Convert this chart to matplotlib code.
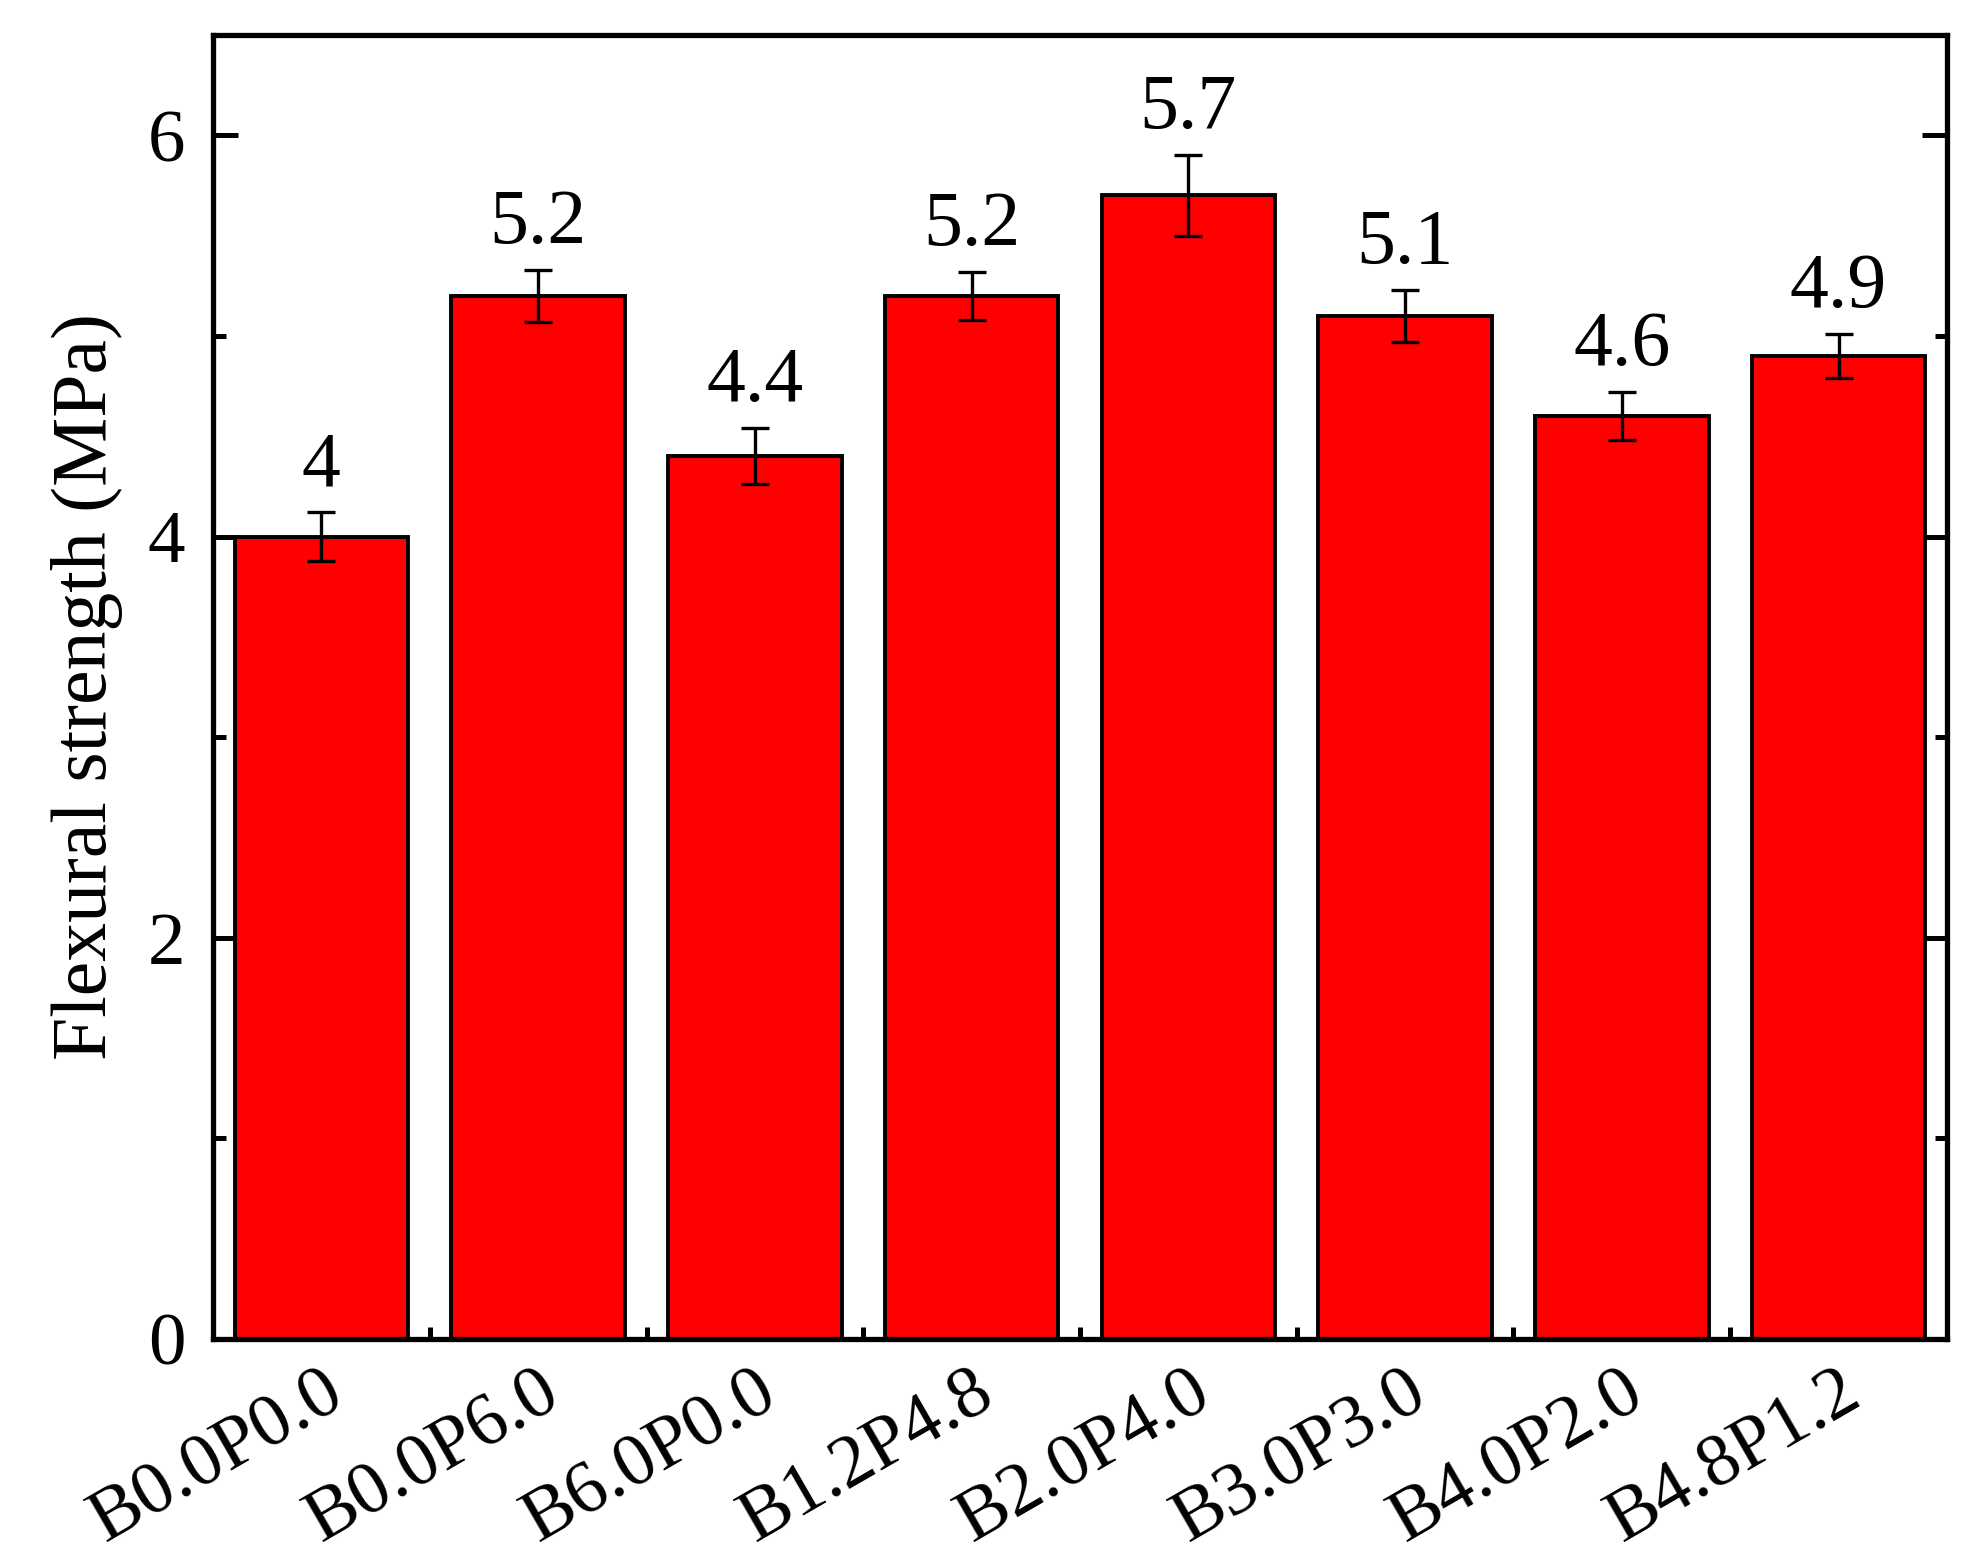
import matplotlib
matplotlib.use("Agg")
import matplotlib.pyplot as plt
from matplotlib.ticker import MultipleLocator, FixedLocator

groups = ["B0.0P0.0", "B0.0P6.0", "B6.0P0.0", "B1.2P4.8",
          "B2.0P4.0", "B3.0P3.0", "B4.0P2.0", "B4.8P1.2"]
strength = [4.0, 5.2, 4.4, 5.2, 5.7, 5.1, 4.6, 4.9]
errors = [0.12, 0.13, 0.14, 0.12, 0.20, 0.13, 0.12, 0.11]
labels = ["4", "5.2", "4.4", "5.2", "5.7", "5.1", "4.6", "4.9"]

plt.rcParams['font.family'] = ['Liberation Serif', 'DejaVu Serif']
plt.rcParams['mathtext.fontset'] = 'stix'

fig = plt.figure(figsize=(19.86, 15.65), dpi=100)
ax = fig.add_axes([213 / 1986, 1 - 1339 / 1565, (1947 - 213) / 1986, (1339 - 35) / 1565])

x = list(range(len(groups)))
ax.bar(x, strength, width=0.8, color="#ff0000", edgecolor="black", linewidth=2.8, zorder=2)
ax.errorbar(x, strength, yerr=errors, fmt="none", ecolor="black",
            elinewidth=2.4, capsize=10, capthick=2.4, zorder=3)

for xi, v, e, t in zip(x, strength, errors, labels):
    ax.text(xi, v + e + 0.05, t, ha="center", va="bottom", fontsize=56)

ax.set_xlim(-0.5, 7.5)
ax.set_ylim(0, 6.5)
ax.set_xticks(x)
ax.set_xticklabels(groups, rotation=30, ha="right", rotation_mode="anchor")
ax.xaxis.set_minor_locator(FixedLocator([i + 0.5 for i in range(-1, 8)]))
ax.yaxis.set_major_locator(MultipleLocator(2))
ax.yaxis.set_minor_locator(MultipleLocator(1))

ax.tick_params(axis="both", which="major", direction="in", length=18, width=3.6,
               labelsize=54)
ax.tick_params(axis="both", which="minor", direction="in", length=9, width=3.6)
ax.tick_params(axis="y", which="both", right=True)
ax.tick_params(axis="y", which="major", pad=20)
ax.tick_params(axis="x", which="both", top=False)
ax.tick_params(axis="x", which="major", pad=14)

for s in ax.spines.values():
    s.set_linewidth(3.8)

ax.set_ylabel("Flexural strength (MPa)", fontsize=56, labelpad=18)

fig.savefig("out.png", dpi=100)
